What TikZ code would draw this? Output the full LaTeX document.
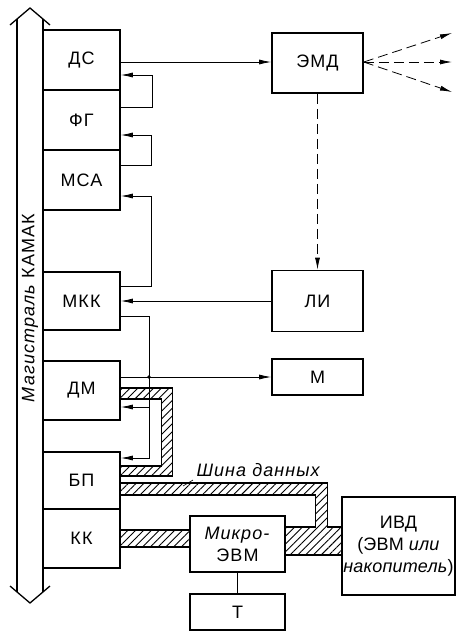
\documentclass[tikz,border=0pt]{standalone}
\usepackage{fontspec}
\setmainfont{Liberation Sans}[LetterSpace=6]
\usetikzlibrary{arrows.meta,patterns.meta}

\begin{document}
\begin{tikzpicture}[
        x=1pt, y=-1pt,
        font=\fontsize{18}{22}\selectfont,
        blk/.style={rectangle, draw, line width=1.6pt, inner sep=0pt, align=center},
        col/.style={blk, minimum width=77pt, minimum height=60pt},
        wire/.style={-{Latex[length=12pt,width=5pt]}, line width=0.8pt},
        dwire/.style={wire, dash pattern=on 10pt off 5pt},
        band/.style={draw, line width=1.1pt, pattern={Lines[angle=45,distance=5.5pt,line width=0.9pt]}},
        busline/.style={line width=1.3pt}
    ]
    \useasboundingbox (0,0) rectangle (461,635);

    \draw[busline] (10,25) -- (30,8) -- (50,25);
    \draw[busline] (17,19) -- (17,592);
    \draw[busline] (43,19) -- (43,592);
    \draw[busline] (10,586) -- (30,603) -- (50,586);
    \node[rotate=90] (busname) at (30,308) {\textit{Магистраль} КАМАК};

    \node[col] (ds) at (81.5,60) {ДС};
    \node[col] (fg) at (81.5,120) {ФГ};
    \node[col] (msa) at (81.5,180) {МСА};
    \node[col, minimum height=58pt] (mkk) at (81.5,301) {МКК};
    \node[col, minimum height=59pt] (dm) at (81.5,390.5) {ДМ};
    \node[col, minimum height=57pt] (bp) at (81.5,480.5) {БП};
    \node[col, minimum height=59pt] (kk) at (81.5,538.5) {КК};

    \node[blk, minimum width=91pt, minimum height=60pt] (emd) at (317.5,63) {ЭМД};
    \node[blk, minimum width=91pt, minimum height=61pt] (li) at (317.5,301) {ЛИ};
    \node[blk, minimum width=91pt, minimum height=36pt] (m) at (317.5,377) {М};
    \node[blk, minimum width=95pt, minimum height=56pt] (micro) at (237.5,544) {\textit{Микро-}\\ЭВМ};
    \node[blk, minimum width=113pt, minimum height=98pt, font=\fontsize{18}{22}\selectfont\addfontfeature{LetterSpace=1}] (ivd) at (398.5,546) {ИВД\\(ЭВМ \textit{или}\\\textit{накопитель})};
    \node[blk, minimum width=95pt, minimum height=36pt] (t) at (237.5,612) {Т};

    \draw[band] ([yshift=2.5pt]dm.east) -- ++(52,0) |- ([yshift=4.5pt]bp.east) -- ++(0,-10) -- ++(41,0) |- ([yshift=-8.5pt]dm.east) -- cycle;
    \draw[band] ([yshift=-2.5pt]bp.east) -- ++(207,0) |- ([yshift=19pt]ivd.west) -- ([yshift=-9pt]ivd.west) -- ([yshift=-11pt]micro.east) -- ([yshift=17pt]micro.east) -- ++(30,0) |- ([yshift=-14.5pt]bp.east) -- cycle;
    \draw[band] ([yshift=8.5pt]kk.east) rectangle ([yshift=-8.5pt]kk.east -| micro.west);
    \node[font=\fontsize{18}{22}\selectfont\itshape, anchor=south west] (busdata) at (193,480) {Шина данных};
    \coordinate (bustap) at (183,486);
    \draw[line width=0.6pt] (bustap) -- (busdata.south west);

    \draw[wire] ([yshift=-2pt]ds.east) -- ([yshift=-2pt]ds.east -| emd.west);
    \draw[wire] ([yshift=13pt]fg.east) -- ++(32,0) |- ([yshift=-15pt]ds.east);
    \draw[wire] ([yshift=15pt]msa.east) -- ++(31,0) |- ([yshift=-15pt]fg.east);
    \draw[wire] ([yshift=15pt]mkk.east) -- ++(31,0) |- ([yshift=-16pt]msa.east);
    \draw[wire] (li) -- (mkk);
    \draw[wire] ([yshift=-15pt]mkk.east) -- ++(29,0) |- ([yshift=22.5pt]bp.east);
    \coordinate (tap) at (149,407);
    \draw[wire] (tap) -- (tap -| dm.east);
    \draw[wire] ([yshift=13.5pt]dm.east) -- ([yshift=13.5pt]dm.east -| m.west);
    \fill (149,377) circle (1.8);

    \draw[dwire] (emd) -- (li);
    \coordinate (f1) at (452,33);
    \coordinate (f2) at (452,62);
    \coordinate (f3) at (452,92);
    \draw[dwire] ([yshift=1pt]emd.east) -- (f1);
    \draw[dwire] ([yshift=1pt]emd.east) -- (f2);
    \draw[dwire] ([yshift=1pt]emd.east) -- (f3);
    \draw[line width=0.8pt] (micro) -- (t);

\end{tikzpicture}
\end{document}
